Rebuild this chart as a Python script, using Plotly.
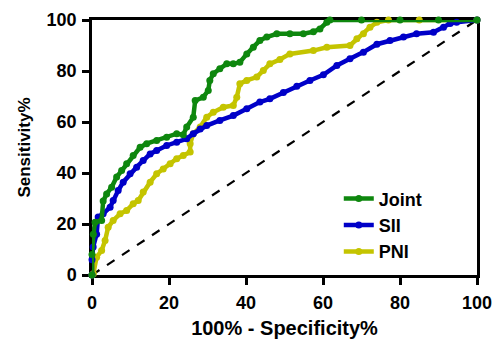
import plotly.graph_objects as go

# ROC curves (x = 100% - Specificity%, y = Sensitivity%)
joint_x = [0, 0, 0.35, 0.8, 2.5, 2.9, 3.8, 5.1, 6.4, 7.7, 9.0, 10.7, 12.5, 14.2, 16.8, 19.4, 22.0, 23.7,
           24.6, 26.3, 26.8, 28.9, 30.2, 30.6, 31.5, 33.2, 35.0, 36.7, 38.4, 40.2, 41.9, 43.6, 45.4, 48.0,
           51.4, 54.9, 57.5, 59.2, 61.0, 61.8, 70, 80, 90, 100]
joint_y = [0, 8, 16, 20.7, 21.4, 29, 31.8, 34.4, 38.4, 41, 43.6, 46.9, 50.1, 51.5, 52.7, 54, 55.4, 55,
           58, 61.9, 68.4, 69.7, 72.4, 76.3, 78.9, 80.9, 82.8, 82.8, 83.4, 86.7, 89.3, 92, 93.3, 94.6,
           94.6, 94.6, 95.4, 96.5, 99.1, 100, 100, 100, 100, 100]

sii_x = [0, 0, 0.3, 1.2, 1.6, 2.9, 4.7, 5.5, 6.8, 8.1, 9.9, 11.6, 13.3, 15.1, 16.8, 19.4, 22.0, 24.6,
         26.3, 28.1, 29.8, 33.2, 36.7, 40.2, 43.6, 46.2, 49.7, 53.2, 56.6, 60.1, 63.6, 67.0, 70.5, 74.0,
         77.4, 80.9, 84.3, 88.7, 91.3, 93.0, 94.7, 100]
sii_y = [0, 6, 11, 16, 22.7, 24, 26.6, 29.2, 33.1, 36.4, 39.7, 42.3, 44.9, 47.5, 48.8, 50.8, 52.1, 53.4,
         55.4, 57.3, 58.6, 60.6, 62.5, 65.2, 67.8, 69.1, 71.6, 74, 76.3, 78.5, 82.2, 84.8, 87.4, 90.5,
         92, 93.3, 94.6, 95.2, 97.2, 98.6, 99.1, 100]

pni_x = [0, 0.35, 1.2, 2.5, 3.4, 4.2, 5.5, 7.3, 9.0, 10.7, 12.0, 13.3, 15.1, 16.8, 18.5, 20.3, 22.0, 23.7,
         25.5, 25.5, 26.3, 28.1, 29.8, 31.5, 34.1, 36.7, 37.6, 38.4, 40.2, 42.8, 44.5, 46.2, 48.8, 51.4,
         57.5, 61.0, 67.0, 68.8, 70.5, 72.2, 74.0, 77.0, 85, 100]
pni_y = [0, 0.5, 7, 9.6, 13.5, 18.7, 21.4, 24, 25.3, 27.9, 29.2, 32.5, 36.4, 39.7, 41.6, 43.6, 45.6, 46.9,
         48.2, 51.5, 55.4, 58, 61.9, 63.8, 65.8, 66.5, 69.7, 75, 76.3, 77.6, 80.2, 82.8, 84.5, 86.7,
         88, 89.3, 90, 92.6, 94.6, 97.2, 99.1, 100, 100, 100]

ref_x = [0, 100]
ref_y = [0, 100]

x_ticks = [0, 20, 40, 60, 80, 100]
y_ticks = [0, 20, 40, 60, 80, 100]

FONT = "Arial, 'Liberation Sans', Helvetica, sans-serif"

fig = go.Figure()
fig.add_trace(go.Scatter(x=ref_x, y=ref_y, mode="lines", showlegend=False,
                         line=dict(color="black", width=2.2, dash="dash"), hoverinfo="skip"))
fig.add_trace(go.Scatter(x=pni_x, y=pni_y, mode="lines+markers", name="PNI",
                         line=dict(color="#c4c400", width=4.5), marker=dict(size=7, color="#c4c400"),
                         cliponaxis=False, legendrank=3))
fig.add_trace(go.Scatter(x=sii_x, y=sii_y, mode="lines+markers", name="SII",
                         line=dict(color="#0000c8", width=4.5), marker=dict(size=7, color="#0000c8"),
                         cliponaxis=False, legendrank=2))
fig.add_trace(go.Scatter(x=joint_x, y=joint_y, mode="lines+markers", name="Joint",
                         line=dict(color="#0e870e", width=4.5), marker=dict(size=7, color="#0e870e"),
                         cliponaxis=False, legendrank=1))

axis_common = dict(
    showgrid=False, zeroline=False, showline=True, linecolor="black", linewidth=2.5,
    mirror=True, ticks="outside", ticklen=7, tickwidth=2.5, tickcolor="black",
    tickfont=dict(family=FONT, size=18, color="black", weight="bold"),
    range=[0, 100], automargin=False, layer="below traces",
)

fig.update_layout(
    width=494, height=339,
    margin=dict(l=92, r=17, t=20, b=64),
    plot_bgcolor="white", paper_bgcolor="white",
    font=dict(family=FONT, color="black"),
    xaxis=dict(axis_common, tickvals=x_ticks, ticklabelstandoff=3,
               title=dict(text="100% - Specificity%", font=dict(family=FONT, size=20, weight="bold"),
                          standoff=10)),
    yaxis=dict(axis_common, tickvals=y_ticks, ticklabelstandoff=2,
               title=dict(text="Sensitivity%", font=dict(family=FONT, size=17, weight="bold"),
                          standoff=12.5)),
    legend=dict(x=0.641, y=0.371, xanchor="left", yanchor="top", bgcolor="rgba(0,0,0,0)",
                font=dict(family=FONT, size=18, weight="bold"), tracegroupgap=0,
                traceorder="normal", itemwidth=30),
    showlegend=True,
)

fig.write_html("out.html", config={"displayModeBar": False},
               post_script="document.body.style.margin='0';document.body.style.padding='0';")
